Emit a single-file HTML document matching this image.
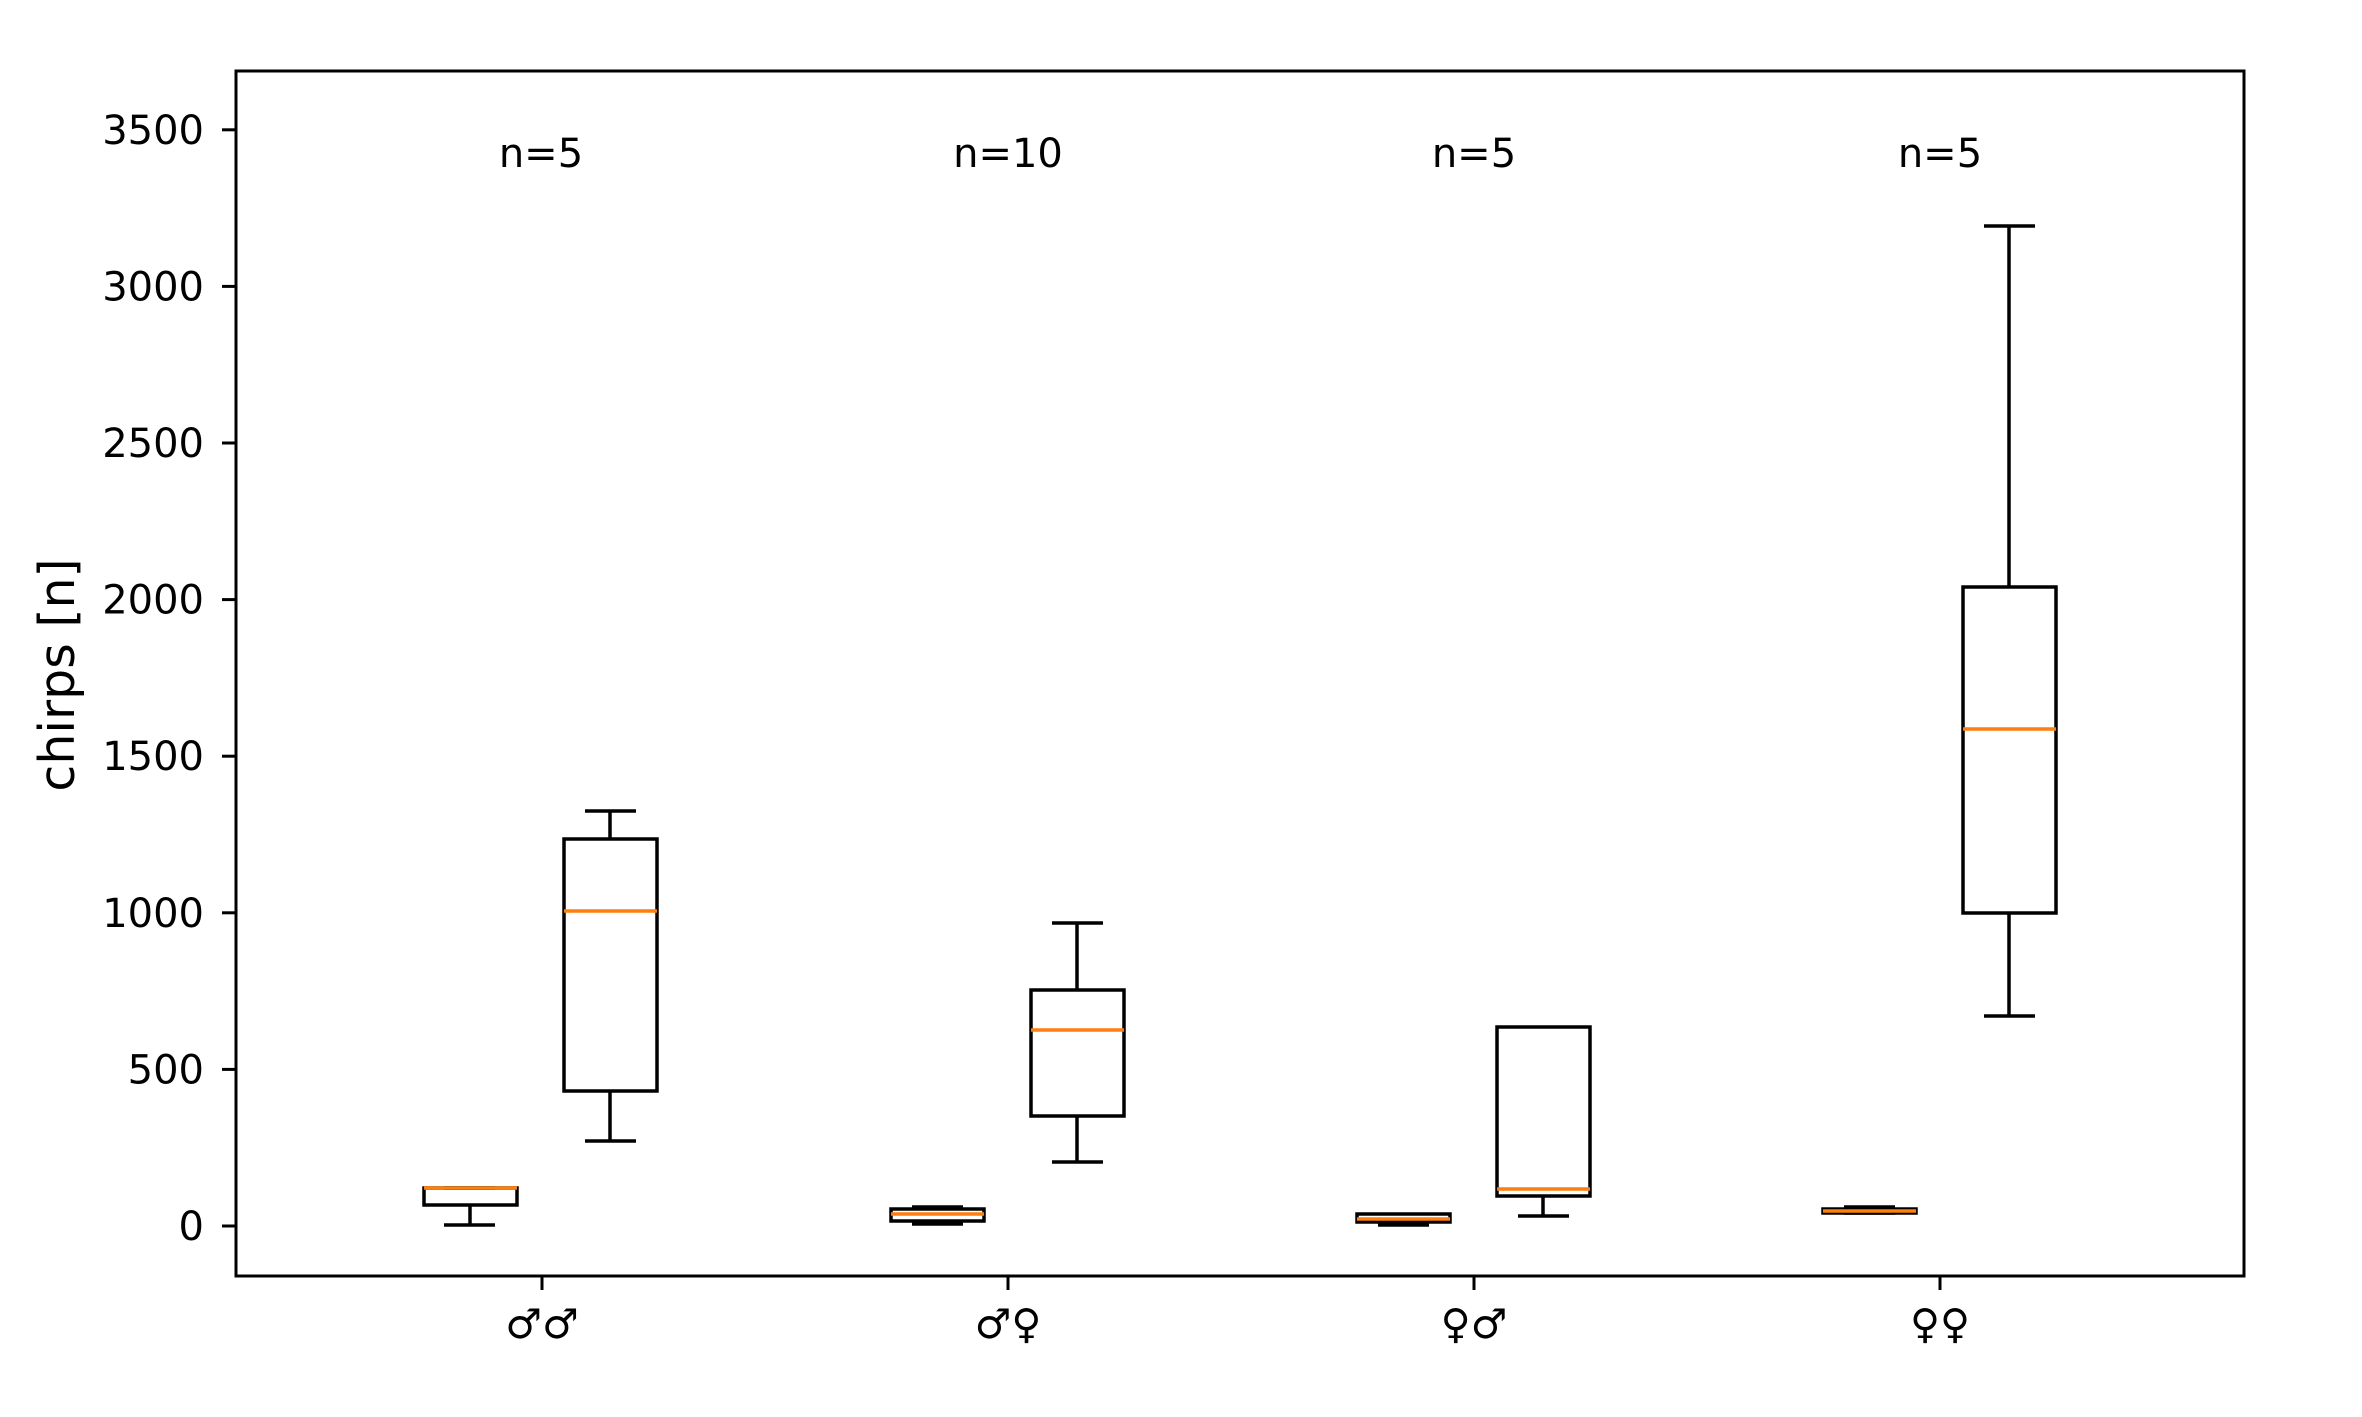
<!DOCTYPE html>
<html><head><meta charset="utf-8"><style>html,body{margin:0;padding:0;background:#fff}svg{display:block}</style></head>
<body>
<svg xmlns="http://www.w3.org/2000/svg" width="2362" height="1417" viewBox="0 0 2362 1417">
<rect width="2362" height="1417" fill="#fff"/>
<g font-family="DejaVu Sans, Liberation Sans, sans-serif" fill="#000">
<g stroke="#000" stroke-width="3">
<line x1="222" y1="1226" x2="236" y2="1226"/>
<line x1="222" y1="1069.4" x2="236" y2="1069.4"/>
<line x1="222" y1="912.8" x2="236" y2="912.8"/>
<line x1="222" y1="756.2" x2="236" y2="756.2"/>
<line x1="222" y1="599.6" x2="236" y2="599.6"/>
<line x1="222" y1="443" x2="236" y2="443"/>
<line x1="222" y1="286.4" x2="236" y2="286.4"/>
<line x1="222" y1="129.8" x2="236" y2="129.8"/>
<line x1="542" y1="1276" x2="542" y2="1290"/>
<line x1="1008" y1="1276" x2="1008" y2="1290"/>
<line x1="1474" y1="1276" x2="1474" y2="1290"/>
<line x1="1940" y1="1276" x2="1940" y2="1290"/>
</g>
<g font-size="40" text-anchor="end">
<text x="204" y="1240">0</text>
<text x="204" y="1083.4">500</text>
<text x="204" y="926.8">1000</text>
<text x="204" y="770.2">1500</text>
<text x="204" y="613.6">2000</text>
<text x="204" y="457">2500</text>
<text x="204" y="300.4">3000</text>
<text x="204" y="143.8">3500</text>
</g>
<text x="74" y="675" font-size="49" text-anchor="middle" transform="rotate(-90 74 675)">chirps [n]</text>
<g font-size="41" text-anchor="middle">
<text x="542" y="1338">♂♂</text>
<text x="1008" y="1338">♂♀</text>
<text x="1474" y="1338">♀♂</text>
<text x="1940" y="1338">♀♀</text>
</g>
<g font-size="40" text-anchor="middle">
<text x="541" y="167">n=5</text>
<text x="1008" y="167">n=10</text>
<text x="1474" y="167">n=5</text>
<text x="1940" y="167">n=5</text>
</g>
</g>
<g fill="none" stroke="#000" stroke-width="3.5">
<rect x="424" y="1188" width="93" height="17"/>
<line x1="470" y1="1205" x2="470" y2="1225"/><line x1="444" y1="1225" x2="495" y2="1225"/>
<line x1="444" y1="1188" x2="495" y2="1188"/>
<rect x="564" y="839" width="93" height="252"/>
<line x1="610" y1="1091" x2="610" y2="1141"/><line x1="585" y1="1141" x2="636" y2="1141"/>
<line x1="610" y1="839" x2="610" y2="811"/><line x1="585" y1="811" x2="636" y2="811"/>
<rect x="891" y="1209" width="93" height="12"/>
<line x1="937" y1="1221" x2="937" y2="1224"/><line x1="912" y1="1224" x2="963" y2="1224"/>
<line x1="937" y1="1209" x2="937" y2="1207"/><line x1="912" y1="1207" x2="963" y2="1207"/>
<rect x="1031" y="990" width="93" height="126"/>
<line x1="1077" y1="1116" x2="1077" y2="1162"/><line x1="1052" y1="1162" x2="1103" y2="1162"/>
<line x1="1077" y1="990" x2="1077" y2="923"/><line x1="1052" y1="923" x2="1103" y2="923"/>
<rect x="1357" y="1214" width="93" height="8"/>
<line x1="1403" y1="1222" x2="1403" y2="1225"/><line x1="1378" y1="1225" x2="1429" y2="1225"/>
<rect x="1497" y="1027" width="93" height="169"/>
<line x1="1543" y1="1196" x2="1543" y2="1216"/><line x1="1518" y1="1216" x2="1569" y2="1216"/>
<rect x="1823" y="1209" width="93" height="4"/>
<line x1="1844" y1="1207" x2="1895" y2="1207"/>
<line x1="1844" y1="1213" x2="1895" y2="1213"/>
<rect x="1963" y="587" width="93" height="326"/>
<line x1="2009" y1="913" x2="2009" y2="1016"/><line x1="1984" y1="1016" x2="2035" y2="1016"/>
<line x1="2009" y1="587" x2="2009" y2="226"/><line x1="1984" y1="226" x2="2035" y2="226"/>
</g>
<g stroke="#ff7f0e" stroke-width="3.5">
<line x1="424" y1="1188" x2="517" y2="1188"/>
<line x1="564" y1="911" x2="657" y2="911"/>
<line x1="891" y1="1214" x2="984" y2="1214"/>
<line x1="1031" y1="1030" x2="1124" y2="1030"/>
<line x1="1357" y1="1219" x2="1450" y2="1219"/>
<line x1="1497" y1="1189" x2="1590" y2="1189"/>
<line x1="1823" y1="1211" x2="1916" y2="1211"/>
<line x1="1963" y1="729" x2="2056" y2="729"/>
</g>
<rect x="236" y="71" width="2008" height="1205" fill="none" stroke="#000" stroke-width="3"/>
</svg>
</body></html>
